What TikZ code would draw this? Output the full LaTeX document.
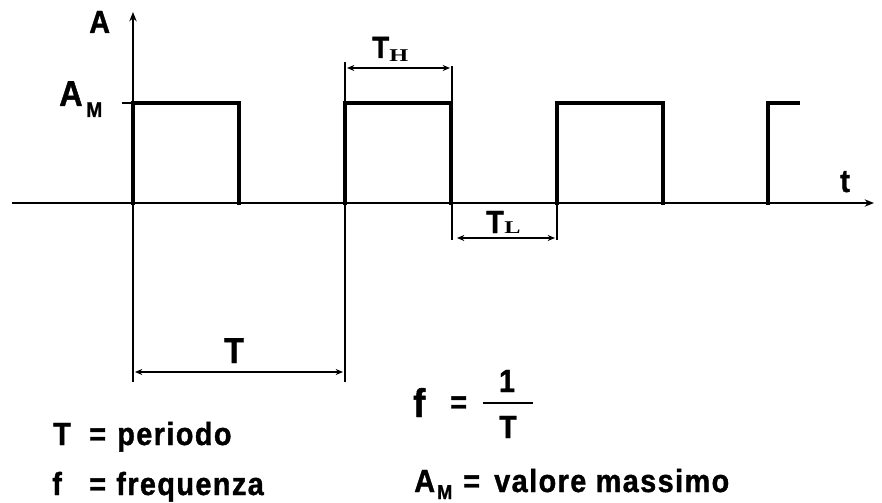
\documentclass[tikz,border=0pt]{standalone}
\usepackage{fontspec}
\setmainfont{Liberation Sans}
\newfontfamily\heavy{Liberation Sans Bold}[FakeBold=1.2,FakeStretch=0.9,LetterSpace=4.5]
\newfontfamily\serf{Liberation Serif Bold}[FakeStretch=1.35]
\usetikzlibrary{arrows.meta}
\begin{document}
\begin{tikzpicture}[x=0.75pt,y=-0.75pt,
  sig/.style={line width=3pt,line join=miter,line cap=rect},
  thinln/.style={line width=1.1pt},
  axisarrow/.style={thinln,-{Stealth[length=7pt,width=5.5pt]}},
  dimarrow/.style={thinln,{Stealth[length=5.5pt,width=4.5pt]}-{Stealth[length=5.5pt,width=4.5pt]}},
  lbl/.style={inner sep=0pt,font=\heavy\fontsize{24}{28}\selectfont},
  sub/.style={inner sep=0pt,font=\heavy\fontsize{15}{18}\selectfont},
  ssub/.style={inner sep=0pt,font=\serf\fontsize{13.5}{16}\selectfont}]
\useasboundingbox (0,0) rectangle (882,503);
% reference coordinates
\coordinate (xstart) at (12,203);
\coordinate (xend) at (874,203);
\coordinate (ybot) at (133,382);
\coordinate (ytop) at (133,12);
\coordinate (tick) at (122,103);
\coordinate (AMy) at (133,103);
% axes
\draw[axisarrow] (xstart) -- (xend);
\draw[axisarrow] (ybot) -- (ytop);
\draw[thinln] (tick) -- (AMy);
% pulses
\foreach \x in {133,345,557}
  \draw[sig] (\x,203) -- (\x,103) -- (\x+106,103) -- (\x+106,203);
\draw[sig] (768,203) -- (768,103) -- (798,103);
% extension lines
\coordinate (e1t) at (345,62);  \coordinate (e1b) at (345,382);
\coordinate (e2t) at (452,66);  \coordinate (e2b) at (452,240);
\coordinate (e3t) at (557,203); \coordinate (e3b) at (557,240);
\draw[thinln] (e1t) -- (e1b);
\draw[thinln] (e2t) -- (e2b);
\draw[thinln] (e3t) -- (e3b);
% dimension arrows
\coordinate (th1) at (347,68);  \coordinate (th2) at (450,68);
\coordinate (tl1) at (457,238); \coordinate (tl2) at (555,238);
\coordinate (tp1) at (135,372); \coordinate (tp2) at (343,372);
\draw[dimarrow] (th1) -- (th2);
\draw[dimarrow] (tl1) -- (tl2);
\draw[dimarrow] (tp1) -- (tp2);
% labels
\node[lbl,anchor=base west] (A) at (89,33) {A};
\node[lbl,font=\heavy\fontsize{27}{30}\selectfont,anchor=base west] (AM) at (59,106) {A};
\node[sub,font=\heavy\fontsize{16}{18}\selectfont,anchor=base west] (AMs) at (86,117) {M};
\node[lbl,anchor=base west] (t) at (840,192) {t};
\node[lbl,font=\heavy\fontsize{23}{26}\selectfont,anchor=base west] (TH) at (372,58) {T};
\node[ssub,anchor=base west] (THs) at (389,62) {H};
\node[lbl,anchor=base west] (TL) at (486,233) {T};
\node[ssub,anchor=base west] (TLs) at (504,233) {L};
\node[lbl,font=\heavy\fontsize{27}{30}\selectfont,anchor=base west] (Tp) at (224,363) {T};
% legend
\node[lbl,anchor=base west] (l1a) at (53,445) {T};
\node[lbl,anchor=base west] (l1b) at (89,445) {=};
\node[lbl,anchor=base west] (l1c) at (117,445) {periodo};
\node[lbl,anchor=base west] (l2a) at (52,495) {f};
\node[lbl,anchor=base west] (l2b) at (89,495) {=};
\node[lbl,anchor=base west] (l2c) at (116,495) {frequenza};
% formula
\node[lbl,font=\heavy\fontsize{30}{34}\selectfont,anchor=base west] (ff) at (413,417) {f};
\node[lbl,anchor=base west] (feq) at (450,413) {=};
\coordinate (bar1) at (483,403); \coordinate (bar2) at (533,403);
\draw[line width=1.6pt] (bar1) -- (bar2);
\node[lbl,anchor=base] (one) at (507,392) {1};
\node[lbl,anchor=base] (den) at (508,438) {T};
\node[lbl,anchor=base west] (am1) at (414,492) {A};
\node[sub,anchor=base west] (am2) at (437,499) {M};
\node[lbl,anchor=base west] (am3) at (463,492) {=};
\node[lbl,anchor=base west] (am4) at (494,492) {valore massimo};
\end{tikzpicture}
\end{document}
